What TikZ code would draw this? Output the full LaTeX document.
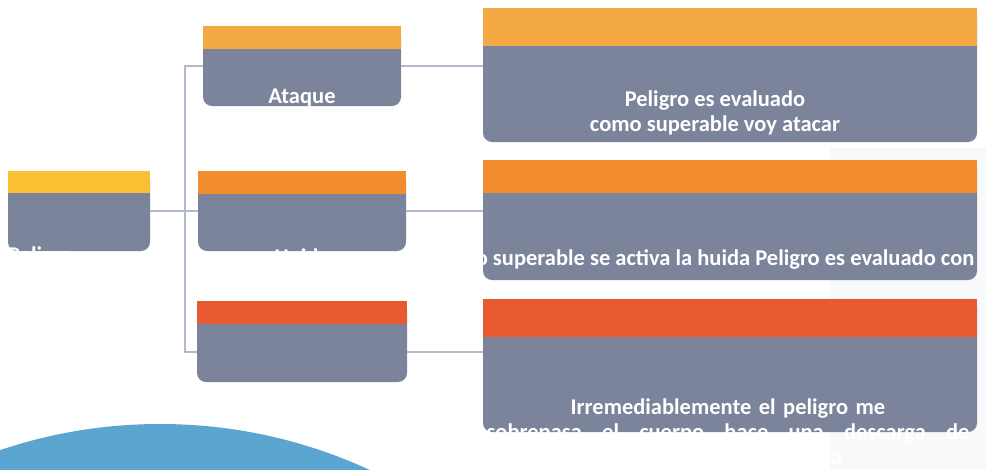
\documentclass[tikz,border=0pt]{standalone}
\usepackage{fontspec}
\setmainfont{Carlito}
\usepackage{tikz}
\definecolor{cardgray}{HTML}{7B849A}
\definecolor{linkgray}{HTML}{B2B9CA}
\definecolor{peligroyellow}{HTML}{FBBF33}
\definecolor{ataqueorange}{HTML}{F5A945}
\definecolor{huidaorange}{HTML}{F18D2C}
\definecolor{congelred}{HTML}{E85A31}
\definecolor{circleblue}{HTML}{5BA5D1}
\definecolor{faintgray}{HTML}{F8F9FB}

\begin{document}
\begin{tikzpicture}[x=1pt,y=-1pt,
        card/.style={fill=cardgray, rounded corners=9pt, inner sep=0pt},
        cardhead/.style={anchor=north, inner sep=0pt},
        link/.style={draw=linkgray, line width=2pt},
        cardtext/.style={text=white, font=\bfseries\fontsize{22.5}{25}\selectfont, inner sep=0pt}
    ]
        \useasboundingbox (0,0) rectangle (986,469);
        \fill[faintgray] (830,148) rectangle (986,469);
        \fill[circleblue] (160,924) circle[radius=500];

        \node[card, minimum width=142pt, minimum height=80pt] (peligro) at (79,211) {};
        \node[cardhead, fill=peligroyellow, minimum width=142pt, minimum height=22pt] (peligro-head) at (peligro.north) {};

        \node[card, minimum width=198pt, minimum height=80pt] (ataque) at (302,66) {};
        \node[cardhead, fill=ataqueorange, minimum width=198pt, minimum height=23pt] (ataque-head) at (ataque.north) {};
        \node[card, minimum width=208pt, minimum height=80pt] (huida) at (302,211) {};
        \node[cardhead, fill=huidaorange, minimum width=208pt, minimum height=23pt] (huida-head) at (huida.north) {};
        \node[card, minimum width=210pt, minimum height=81pt] (congelacion) at (302,341.5) {};
        \node[cardhead, fill=congelred, minimum width=210pt, minimum height=23pt] (congelacion-head) at (congelacion.north) {};

        \node[card, minimum width=494pt, minimum height=134pt] (ataque-desc) at (730,75) {};
        \node[cardhead, fill=ataqueorange, minimum width=494pt, minimum height=38pt] (ataque-desc-head) at (ataque-desc.north) {};
        \node[card, minimum width=494pt, minimum height=120pt] (huida-desc) at (730,220) {};
        \node[cardhead, fill=huidaorange, minimum width=494pt, minimum height=33pt] (huida-desc-head) at (huida-desc.north) {};
        \node[card, minimum width=494pt, minimum height=133pt] (congelacion-desc) at (730,365.5) {};
        \node[cardhead, fill=congelred, minimum width=494pt, minimum height=38pt] (congelacion-desc-head) at (congelacion-desc.north) {};

        \coordinate (split) at (185,211);
        \coordinate (congel-out) at ([yshift=-10pt]congelacion.east);
        \draw[link] (peligro.east) -- (huida.west);
        \draw[link] (ataque.west) -| (split) |- ([yshift=-10pt]congelacion.west);
        \draw[link] (ataque.east) -- (ataque.east -| ataque-desc.west);
        \draw[link] (huida.east) -- (huida.east -| huida-desc.west);
        \draw[link] (congel-out) -- (congel-out -| congelacion-desc.west);

        \node[cardtext, anchor=west] (peligro-label) at (8,257) {Peligro};
        \node[cardtext] (ataque-label) at (302,98) {Ataque};
        \node[cardtext] (huida-label) at (302,257) {Huida};
        \node[cardtext] (congelacion-label) at (302,405) {Congelación};

        \node[cardtext, align=center] (ataque-text) at (715,113) {Peligro es evaluado\\como superable voy atacar};
        \node[cardtext] (huida-text) at (719,259) {no superable se activa la huida Peligro es evaluado con};
        \node[cardtext, text width=483pt, align=left] (congelacion-text) at (728,434) {\makebox[\linewidth]{Irremediablemente el peligro me}\\
            \makebox[\linewidth][s]{sobrepasa\hfill el\hfill cuerpo\hfill hace\hfill una\hfill descarga\hfill de}\\
            DOPAMINA que congela a la persona};
    \end{tikzpicture}
\end{document}
